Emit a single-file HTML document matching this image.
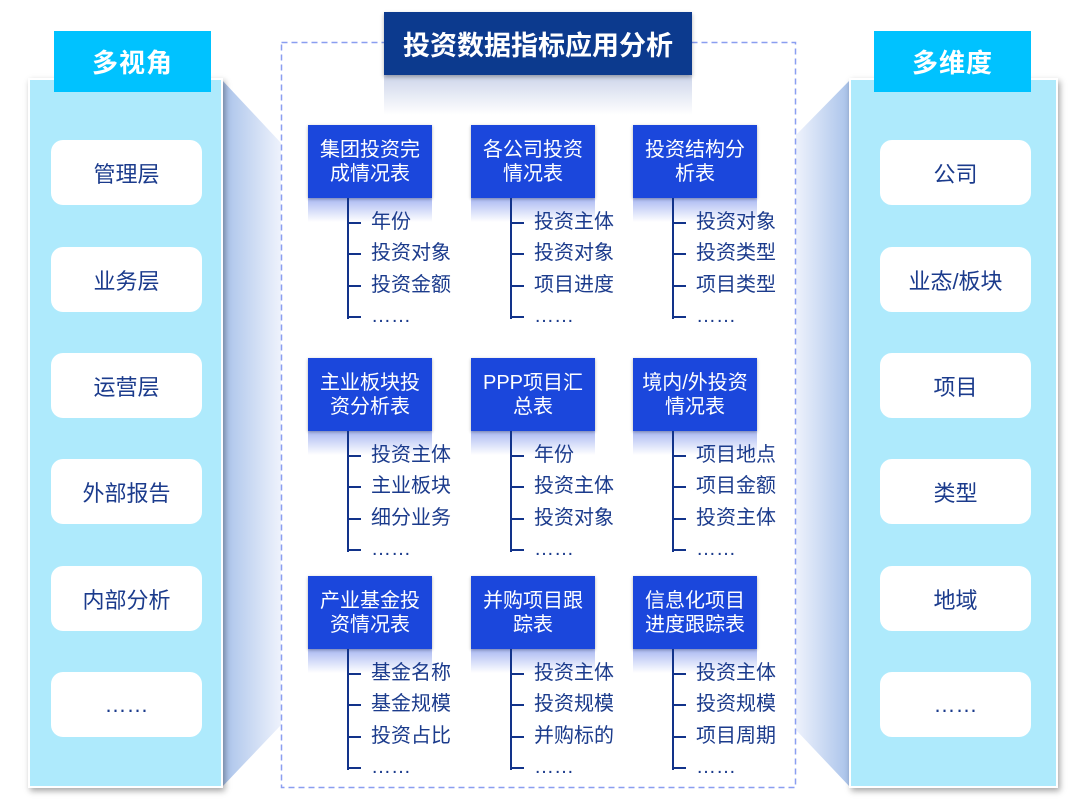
<!DOCTYPE html>
<html><head><meta charset="utf-8"><style>
*{margin:0;padding:0;box-sizing:border-box}
body{width:1080px;height:803px;background:#fff;position:relative;overflow:hidden;font-family:"Liberation Sans","Noto Sans CJK SC",sans-serif}
.a{position:absolute}
.panel{background:#aeeafc;border:2px solid #fff;box-shadow:2px 3px 6px rgba(0,0,0,.35)}
.hdr{background:#00c2ff;color:#fff;font-size:26px;font-weight:bold;display:flex;align-items:center;justify-content:center;letter-spacing:1px}
.wb{background:#fff;border-radius:12px;color:#1b3b8c;font-size:22px;display:flex;align-items:center;justify-content:center}
.card{background:#1b47dc;color:#fff;font-size:20px;line-height:24px;text-align:center;display:flex;align-items:center;justify-content:center;width:124px;height:73px;box-shadow:0 1px 3px rgba(0,0,0,.3);white-space:nowrap}
.refl{width:124px;height:24px;background:linear-gradient(#a9b8f2,rgba(255,255,255,0))}
.vl{width:2px;background:#12338a}
.hl{height:2px;width:14px;background:#12338a}
.it{color:#1b3b8c;font-size:20px;line-height:22px;white-space:nowrap}
</style></head><body>
<svg class="a" style="left:0;top:0" width="1080" height="803">
<defs>
<linearGradient id="gl" x1="0" x2="1"><stop offset="0" stop-color="#a8c2ea"/><stop offset="1" stop-color="#eef2fc"/></linearGradient>
<linearGradient id="gr" x1="1" x2="0"><stop offset="0" stop-color="#a8c2ea"/><stop offset="1" stop-color="#eef2fc"/></linearGradient>
</defs>
<polygon points="222,80 281,143 281,725 222,787" fill="url(#gl)"/>
<polygon points="850,80 796,135 796,730 850,787" fill="url(#gr)"/>
<rect x="281.5" y="42.5" width="514" height="745" fill="none" stroke="#8a9ef0" stroke-width="1.5" stroke-dasharray="6,4"/>
</svg>
<div class="a panel" style="left:28px;top:78px;width:195px;height:710px"></div>
<div class="a hdr" style="left:54px;top:31px;width:157px;height:61px">多视角</div>
<div class="a panel" style="left:849px;top:78px;width:209px;height:710px"></div>
<div class="a hdr" style="left:874px;top:31px;width:157px;height:61px">多维度</div>

<div class="a wb" style="left:51px;top:140px;width:151px;height:65px">管理层</div>
<div class="a wb" style="left:51px;top:247px;width:151px;height:65px">业务层</div>
<div class="a wb" style="left:51px;top:353px;width:151px;height:65px">运营层</div>
<div class="a wb" style="left:51px;top:459px;width:151px;height:65px">外部报告</div>
<div class="a wb" style="left:51px;top:566px;width:151px;height:65px">内部分析</div>
<div class="a wb" style="left:51px;top:672px;width:151px;height:65px">……</div>

<div class="a wb" style="left:880px;top:140px;width:151px;height:65px">公司</div>
<div class="a wb" style="left:880px;top:247px;width:151px;height:65px">业态/板块</div>
<div class="a wb" style="left:880px;top:353px;width:151px;height:65px">项目</div>
<div class="a wb" style="left:880px;top:459px;width:151px;height:65px">类型</div>
<div class="a wb" style="left:880px;top:566px;width:151px;height:65px">地域</div>
<div class="a wb" style="left:880px;top:672px;width:151px;height:65px">……</div>

<div class="a" style="left:384px;top:75px;width:308px;height:40px;background:linear-gradient(#cdd5ea,rgba(255,255,255,0))"></div>
<div class="a" style="left:384px;top:12px;width:308px;height:63px;background:#0c3a8e;color:#fff;font-size:27px;font-weight:bold;display:flex;align-items:center;justify-content:center;box-shadow:0 2px 4px rgba(0,0,0,.3)">投资数据指标应用分析</div>

<div id="c"></div>
<script>
const cols=[308,471,633],rows=[125,358,576];
const data=[
["集团投资完<br>成情况表",["年份","投资对象","投资金额","……"]],
["各公司投资<br>情况表",["投资主体","投资对象","项目进度","……"]],
["投资结构分<br>析表",["投资对象","投资类型","项目类型","……"]],
["主业板块投<br>资分析表",["投资主体","主业板块","细分业务","……"]],
["PPP项目汇<br>总表",["年份","投资主体","投资对象","……"]],
["境内/外投资<br>情况表",["项目地点","项目金额","投资主体","……"]],
["产业基金投<br>资情况表",["基金名称","基金规模","投资占比","……"]],
["并购项目跟<br>踪表",["投资主体","投资规模","并购标的","……"]],
["信息化项目<br>进度跟踪表",["投资主体","投资规模","项目周期","……"]]];
let h="";
data.forEach((d,i)=>{const x=cols[i%3],y=rows[Math.floor(i/3)];
h+=`<div class="a refl" style="left:${x}px;top:${y+73}px"></div>`;
h+=`<div class="a card" style="left:${x}px;top:${y}px">${d[0]}</div>`;
h+=`<div class="a vl" style="left:${x+39}px;top:${y+73}px;height:121px"></div>`;
[24,55,87,118].forEach((o,k)=>{h+=`<div class="a hl" style="left:${x+39}px;top:${y+73+o}px"></div>`;
h+=`<div class="a it" style="left:${x+63}px;top:${y+73+o-11}px">${d[1][k]}</div>`;});
});
document.getElementById("c").innerHTML=h;
</script>
</body></html>
